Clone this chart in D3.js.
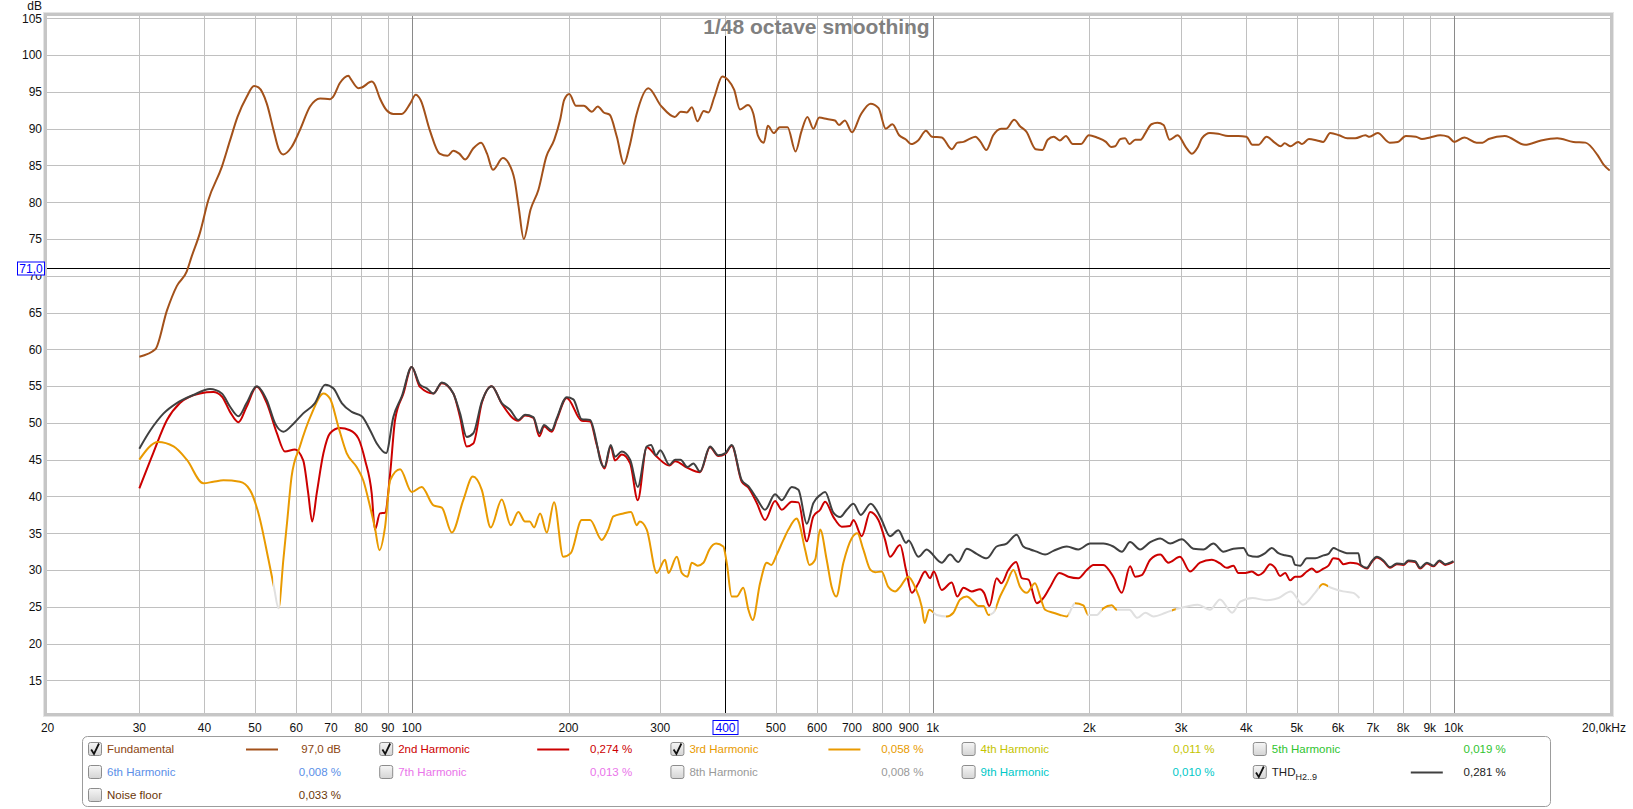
<!DOCTYPE html>
<html><head><meta charset="utf-8">
<script src="https://cdn.jsdelivr.net/npm/d3@7"></script>
<style>
html,body{margin:0;padding:0;background:#fff;}
svg{display:block;font-family:"Liberation Sans",Arial,sans-serif;}
</style></head><body>
<svg id="chart" width="1633" height="809"></svg>
<script>
// ---------------- data ----------------
const title = "1/48 octave smoothing";
const yTicks = [15,20,25,30,35,40,45,50,55,60,65,70,75,80,85,90,95,100,105];
const xTicks = [20,30,40,50,60,70,80,90,100,200,300,500,600,700,800,900,1000,2000,3000,4000,5000,6000,7000,8000,9000,10000,20000];
const xTickLabels = ["20","30","40","50","60","70","80","90","100","200","300","500","600","700","800","900","1k","2k","3k","4k","5k","6k","7k","8k","9k","10k","20,0kHz"];
const xGrid = [30,40,50,60,70,80,90,100,200,300,400,500,600,700,800,900,1000,2000,3000,4000,5000,6000,7000,8000,9000,10000];
const decadeGrid = [100,1000,10000];
const cursorFreq = 400, cursorFreqLabel = "400";
const cursorDb = 71.0, cursorDbLabel = "71,0";

const fundamental = [[30,59.0],[32.2,60.0],[33.9,65.3],[35.4,68.6],[37.0,70.6],[37.8,72.6],[39.2,75.8],[40.7,80.3],[43.2,84.8],[44.8,88.4],[46.3,91.6],[48.2,94.3],[49.8,95.8],[50.8,95.6],[52.7,93.4],[54.3,89.8],[55.5,87.3],[56.7,86.5],[58.8,87.5],[61.0,89.8],[63.8,93.0],[66.7,94.1],[69.7,94.0],[70.6,94.3],[72.8,96.2],[75.6,97.2],[76.3,96.8],[79.0,95.5],[80.2,95.6],[83.8,96.4],[84.6,96.2],[86.9,94.1],[89.5,92.5],[92.2,92.0],[95.7,92.0],[99.3,93.4],[101.8,94.6],[104,93.9],[108.3,89.8],[113.1,86.6],[117.1,86.3],[120.2,87.0],[123.4,86.6],[126.7,85.8],[131.2,87.3],[135.9,88.1],[139.5,86.6],[143.2,84.4],[149.6,86.0],[153.5,85.3],[157.6,83.0],[160.4,79.4],[164.1,75.0],[169.1,79.0],[175.1,81.7],[181.3,86.2],[187.8,88.5],[192.7,91.2],[196.2,93.9],[200.7,94.7],[206.7,93.1],[214,93.1],[221.7,92.3],[227.6,93.0],[233.7,92.2],[239.8,91.9],[247.6,88.9],[255.5,85.2],[261.7,87.5],[270,91.9],[284.6,95.5],[301,93.1],[319.9,91.6],[328.4,92.3],[337.3,92.2],[345,92.9],[353.5,91.0],[363.6,92.4],[371.2,92.2],[381,94.3],[394.6,97.1],[405,96.6],[415.8,95.3],[426.8,92.6],[442.1,93.2],[452.4,92.1],[461.8,89.1],[474.2,88.1],[482.6,90.4],[495.5,89.4],[508.7,90.2],[526.6,90.2],[545.5,86.9],[559.8,89.6],[574.9,91.6],[590.2,90.0],[605.7,91.5],[627.2,91.3],[649.4,91.1],[661,90.5],[678.4,91.1],[700.2,89.5],[727.6,91.9],[760.2,93.4],[787.3,92.8],[812.6,90.0],[836.9,90.6],[862.4,89.1],[889.7,88.5],[908.7,87.9],[937.7,88.4],[970.9,89.7],[996.6,88.9],[1041,88.8],[1088,87.2],[1116,88.1],[1146,88.2],[1177,88.6],[1208,88.9],[1236,88.2],[1268,87.1],[1307,89.1],[1353,90.0],[1384,90.0],[1434,91.2],[1473,90.3],[1513,89.6],[1577,87.2],[1625,87.1],[1663,88.5],[1708,88.9],[1754,88.4],[1802,89.0],[1858,87.9],[1925,87.9],[1995,89.1],[2067,88.8],[2151,88.2],[2200,87.5],[2240,87.6],[2293,88.6],[2342,88.7],[2385,87.9],[2449,88.5],[2508,88.5],[2561,89.4],[2630,90.6],[2701,90.8],[2775,90.5],[2850,88.5],[2954,89.1],[3061,87.5],[3146,86.6],[3230,87.5],[3289,88.7],[3406,89.4],[3532,89.3],[3692,89.0],[3862,89.0],[4002,88.9],[4110,87.8],[4220,87.8],[4375,88.9],[4534,88.1],[4656,87.6],[4738,88.0],[4868,87.6],[5030,88.2],[5118,87.9],[5276,88.6],[5468,88.4],[5616,88.2],[5798,89.4],[6031,89.1],[6250,88.7],[6474,88.7],[6772,89.1],[6896,88.9],[7150,89.4],[7542,88.1],[7816,88.2],[8098,89.0],[8468,88.9],[8696,88.6],[9014,88.8],[9426,89.1],[9764,88.9],[10032,88.2],[10492,88.8],[11070,88.1],[11364,88.1],[11678,88.6],[12539,89.0],[13711,87.8],[14722,88.4],[15809,88.7],[16978,88.2],[17908,88.1],[18897,86.4],[19406,85.1],[19940,84.3]];

const harmonic2 = [[30,41.1],[31.9,45.9],[33.9,50.4],[35.9,52.7],[39.2,54.0],[41.6,54.2],[43.2,53.6],[44.8,51.5],[46.5,50.1],[48.2,52.2],[50.4,54.9],[52.7,52.7],[55.1,48.6],[57.1,46.1],[59.7,46.4],[61.9,44.9],[63.3,40.4],[64.4,36.6],[65.7,40.4],[67.7,45.9],[69.7,48.6],[72.8,49.3],[76.1,49.0],[79.0,47.9],[81.4,44.9],[83.8,40.4],[85.0,35.5],[86.9,37.7],[88.9,37.8],[90.9,43.1],[92.9,50.4],[96.4,54.0],[100,57.6],[103.7,54.9],[110.1,54.0],[114.2,55.4],[120.2,54.0],[123.8,50.8],[127.5,46.8],[131.3,47.2],[136.3,52.7],[142.4,55.0],[148.9,52.6],[160.2,50.3],[165,51.0],[171.2,50.7],[175.8,48.2],[179.5,49.5],[185.7,48.8],[189.8,50.4],[198.4,53.4],[212,50.3],[220,50.2],[226.6,47.0],[234.4,43.8],[241,46.8],[245.6,44.9],[253.1,45.7],[262.6,44.5],[271.6,39.5],[282.6,46.7],[294.4,45.5],[312.3,44.2],[320.3,44.8],[338.3,43.9],[357.6,43.3],[373.8,46.7],[387.8,45.5],[400,45.8],[411.4,46.9],[430.1,42.0],[442.9,41.2],[459.7,39.1],[476.8,36.8],[498.3,39.4],[513.3,38.2],[536.6,39.3],[552.5,39.2],[573.4,33.9],[590.2,37.3],[608.2,38.2],[621.7,39.3],[645,37.2],[669,35.9],[694,36.0],[704.6,36.8],[731,34.6],[758.6,37.9],[786.8,36.8],[810.4,34.1],[828,31.8],[866,33.4],[889,30.0],[912,26.9],[939,28.2],[967,29.8],[988.6,28.9],[1005,29.8],[1041,27.3],[1088,28.3],[1115,26.4],[1146,27.6],[1189,27.1],[1233,27.4],[1255,26.9],[1285,25.1],[1327,28.9],[1355,28.2],[1397,30.0],[1446,31.1],[1483,28.9],[1527,28.7],[1584,25.5],[1627,26.1],[1681,27.7],[1751,29.6],[1822,29.1],[1904,28.9],[1976,30.0],[2035,30.7],[2126,30.7],[2222,29.1],[2307,26.9],[2393,30.5],[2448,29.1],[2520,29.3],[2616,31.4],[2735,32.1],[2834,31.0],[2984,31.8],[3120,29.8],[3260,31.0],[3434,31.4],[3562,30.9],[3670,30.3],[3779,30.6],[3862,29.6],[3984,29.6],[4099,29.8],[4220,29.3],[4315,29.7],[4444,30.8],[4544,30.3],[4645,29.2],[4750,29.6],[4855,28.6],[4964,29.1],[5075,29.1],[5228,29.8],[5346,30.2],[5465,29.7],[5626,30.2],[5752,30.6],[5880,31.6],[6012,31.5],[6145,30.8],[6328,31.0],[6520,30.9],[6637,30.6],[6814,30.2],[6966,31.1],[7122,31.7],[7333,31.2],[7554,30.3],[7780,30.8],[8012,30.7],[8190,31.2],[8436,31.1],[8625,30.2],[8884,30.9],[9148,30.5],[9393,31.2],[9634,30.7],[9994,31.1]];

const harmonic3 = [[30,45.0],[32.6,47.4],[34.9,46.8],[37.0,45.0],[39.8,41.8],[41.6,42.0],[43.5,42.2],[46.8,42.0],[48.9,40.9],[50.8,37.7],[53.1,31.4],[54.4,27.7],[55.5,24.8],[56.7,31.4],[57.7,36.8],[58.8,42.7],[61.0,46.8],[64.3,51.3],[67.7,54.0],[69.7,53.3],[72.3,49.5],[75.0,45.9],[78.4,44.0],[80.7,42.2],[83.2,38.6],[85.0,35.7],[86.7,32.7],[88.9,35.9],[90.9,42.2],[95.0,43.7],[100,40.6],[104.5,41.3],[110.1,38.8],[114.2,38.5],[119.4,35.1],[125.6,39.5],[131.0,42.7],[136.3,40.9],[141.8,35.8],[148.9,39.6],[154.9,36.1],[160.2,37.9],[165,36.6],[168.5,36.6],[171.7,35.8],[176.4,37.7],[181.7,35.1],[187.6,39.2],[195.4,31.8],[202,32.3],[212,36.8],[220,36.8],[231.6,34.1],[238.4,35.5],[243.8,37.3],[254.8,37.7],[263.6,37.9],[270.4,36.1],[274,36.6],[282.6,35.5],[295.4,29.6],[306.4,31.4],[311,29.6],[322.8,31.8],[330,29.6],[338.3,29.1],[344.8,31.0],[354,30.6],[363.1,31.0],[372.8,32.8],[384,33.6],[396.4,33.2],[402.4,31.0],[411.4,26.4],[420.6,26.4],[433,27.6],[442.9,24.6],[451.4,23.2],[466.3,28.2],[480.3,31.0],[490,30.7],[502,32.1],[517,34.1],[528.6,35.5],[548.5,37.0],[554,36.4],[569,32.8],[580,30.7],[594.8,31.4],[608.2,35.5],[626,31.4],[640,27.7],[653,26.4],[674,31.0],[699,34.3],[717,35.0],[736,32.8],[760,30.0],[776,29.7],[798,29.8],[822,27.7],[847,27.1],[866,27.7],[898,29.1],[925,27.7],[953,25.0],[965,22.8],[985,24.6],[1018,23.9],[1065,23.7],[1096,24.2],[1129,26.0],[1163,26.4],[1194,25.8],[1224,25.1],[1252,25.1],[1280,23.9],[1308,24.2],[1347,26.4],[1387,28.2],[1429,30.0],[1472,27.7],[1516,26.9],[1572,28.2],[1608,26.4],[1644,24.6],[1705,24.2],[1756,23.9],[1809,23.7],[1876,25.5],[1946,25.2],[1990,23.9],[2066,23.9],[2126,24.8],[2208,25.2],[2256,24.6],[2385,24.6],[2472,23.5],[2561,24.2],[2654,23.7],[2800,24.2],[2902,24.6],[3061,25.0],[3230,25.3],[3406,24.6],[3562,26.0],[3758,24.2],[3896,25.7],[4110,26.2],[4375,25.9],[4614,26.2],[4868,27.1],[5138,25.3],[5420,26.9],[5614,28.1],[5818,27.6],[6138,27.1],[6418,26.9],[6594,26.2]];
// frequency ranges where the 3rd harmonic lies below the noise floor (drawn greyed out)
const harmonic3BelowNoise = [[54.2,55.8],[1003,1060],[1290,1320],[1824,1874],[1985,2110],[2260,2880],[2930,5520],[5740,7000]];

const thd = [[30,46.5],[31.5,49.0],[33.4,51.3],[35.4,52.7],[38.1,53.8],[41.0,54.6],[43.2,54.0],[44.8,52.2],[46.5,50.9],[48.2,52.7],[50.4,55.0],[52.7,53.1],[54.7,49.9],[56.7,48.8],[59.3,49.9],[61.9,51.3],[65.2,52.7],[68.2,55.2],[70.7,54.7],[73.4,52.7],[76.7,51.5],[80.2,50.9],[83.2,49.0],[85.7,47.2],[89.3,45.9],[92.2,50.8],[95.7,53.6],[100,57.6],[103.7,55.2],[106.9,54.7],[110.1,54.0],[114.2,55.5],[120.2,54.0],[123.8,51.3],[127.5,48.1],[131.3,48.6],[136.3,52.9],[142.4,55.0],[148.9,52.7],[154.4,51.8],[160.2,50.4],[165,51.1],[171.2,50.8],[175.8,48.6],[179.5,49.7],[185.7,49.0],[189.8,50.6],[198.4,53.5],[204.3,53.2],[212,50.5],[220,50.4],[226.6,47.2],[229.9,45.0],[234.4,44.0],[241,47.0],[245.6,45.4],[253.1,46.1],[262.6,45.0],[271.6,41.3],[282.6,46.8],[288,47.0],[294.4,45.6],[300,46.3],[312.3,44.3],[320.3,45.0],[328,45.0],[338.3,44.0],[347.3,44.5],[357.6,43.4],[373.8,46.8],[387.8,45.6],[400,45.9],[411.4,47.0],[430.1,42.2],[442.9,41.4],[459.7,39.7],[476.8,38.2],[498.3,40.3],[513.3,39.5],[536.6,41.3],[552.5,40.9],[573.4,36.3],[590.2,39.1],[608.2,40.2],[621.7,40.6],[644.8,37.8],[664.2,37.2],[684.1,38.2],[704.6,39.0],[727.9,37.5],[760.6,39.0],[781,38.1],[798.3,36.8],[828.2,34.6],[859.3,35.4],[889.3,33.7],[899,34.0],[939,31.8],[974.4,32.8],[988,32.5],[1041,31.0],[1080,32.1],[1120,31.1],[1163,32.9],[1215,32.2],[1270,31.6],[1327,33.2],[1387,33.6],[1450,34.8],[1493,33.2],[1540,32.8],[1584,32.5],[1644,32.1],[1705,32.6],[1809,33.2],[1904,32.8],[2006,33.6],[2126,33.6],[2222,33.2],[2307,32.5],[2393,33.8],[2502,32.8],[2616,33.8],[2735,34.3],[2857,33.6],[3008,34.2],[3167,32.9],[3310,32.8],[3458,33.6],[3615,32.5],[3779,32.9],[3950,33.0],[4038,32.0],[4191,31.8],[4348,32.3],[4477,33.0],[4610,32.3],[4750,32.0],[4892,31.8],[4964,30.7],[5075,30.6],[5228,31.6],[5424,31.6],[5626,32.0],[5752,32.2],[5880,33.0],[6012,32.7],[6238,32.3],[6566,32.3],[6637,30.7],[6814,30.3],[6966,31.2],[7122,31.8],[7333,31.3],[7554,30.4],[7780,30.9],[8012,30.8],[8190,31.3],[8436,31.2],[8625,30.3],[8884,31.0],[9148,30.6],[9393,31.3],[9634,30.8],[9994,31.2]];

const legendNames = ["Fundamental","2nd Harmonic","3rd Harmonic","4th Harmonic","5th Harmonic","6th Harmonic","7th Harmonic","8th Harmonic","9th Harmonic","THD","Noise floor"];
const legendValues = ["97,0 dB","0,274 %","0,058 %","0,011 %","0,019 %","0,008 %","0,013 %","0,008 %","0,010 %","0,281 %","0,033 %"];
const legendChecked = [true,true,true,false,false,false,false,false,false,true,false];
const legendTextColors = ["#8b4510","#cc0000","#e89b00","#c4c400","#2fc42f","#5b8fe8","#ea74ea","#999999","#00c8c8","#222222","#6b3608"];
const curveColors = {fundamental:"#a3511a", h2:"#cc0000", h3:"#e99a00", thd:"#404040", belowNoise:"#e0e0e0"};

// ---------------- layout ----------------
const svg = d3.select("#chart");
const L = 47, R = 1610, T = 16, B = 713;
const x = d3.scaleLog().domain([20,20000]).range([47.6,1610.4]);
const y = d3.scaleLinear().domain([15,105]).range([680.4,18.3]);

const defs = svg.append("defs");
defs.append("clipPath").attr("id","plotClip").append("rect")
  .attr("x",L).attr("y",T).attr("width",R-L).attr("height",B-T);

// plot background and frame
svg.append("rect").attr("x",L).attr("y",T).attr("width",R-L).attr("height",B-T).attr("fill","#fff");
svg.append("rect").attr("x",43.5).attr("y",12.5).attr("width",1570).attr("height",704)
  .attr("fill","none").attr("stroke","#e4e4e4").attr("stroke-width",1);
svg.append("rect").attr("x",45.5).attr("y",14.5).attr("width",1566).attr("height",700)
  .attr("fill","none").attr("stroke","#c6c6c6").attr("stroke-width",3);

// grid
const grid = svg.append("g");
grid.selectAll(".hg").data(yTicks).join("line")
  .attr("x1",L).attr("x2",R)
  .attr("y1",d=>Math.round(y(d))+0.5).attr("y2",d=>Math.round(y(d))+0.5)
  .attr("stroke","#c0c0c0").attr("stroke-width",1);
grid.selectAll(".vg").data(xGrid).join("line")
  .attr("x1",d=>Math.round(x(d))+0.5).attr("x2",d=>Math.round(x(d))+0.5)
  .attr("y1",T).attr("y2",B)
  .attr("stroke",d=>decadeGrid.includes(d)?"#8a8a8a":"#c0c0c0").attr("stroke-width",1);

// y axis labels
const yl = svg.append("g").attr("font-size",12).attr("fill","#111").attr("text-anchor","end");
yl.selectAll("text").data(yTicks).join("text")
  .attr("x",42).attr("y",d=>y(d)+4.3).text(d=>d);
yl.append("text").attr("x",42).attr("y",10).text("dB");

// x axis labels
const xl = svg.append("g").attr("font-size",12).attr("fill","#111").attr("text-anchor","middle");
xl.selectAll("text").data(xTicks).join("text")
  .attr("x",(d,i)=> i===xTicks.length-1 ? 1626 : x(d))
  .attr("text-anchor",(d,i)=> i===xTicks.length-1 ? "end":"middle")
  .attr("y",732).text((d,i)=>xTickLabels[i]);

// title
svg.append("text").attr("x",816.5).attr("y",33.5).attr("text-anchor","middle")
  .attr("font-size",21).attr("font-weight","bold").attr("fill","#808080").text(title);

// cursors
const cx = Math.round(x(cursorFreq))+0.5, cy = Math.round(y(cursorDb))+0.5;
svg.append("line").attr("x1",L).attr("x2",R).attr("y1",cy).attr("y2",cy).attr("stroke","#000");
svg.append("line").attr("x1",cx).attr("x2",cx).attr("y1",36).attr("y2",B).attr("stroke","#000");

// curves
const line = d3.line().x(d=>x(d[0])).y(d=>y(d[1])).curve(d3.curveMonotoneX);
const curves = svg.append("g").attr("clip-path","url(#plotClip)").attr("fill","none")
  .attr("stroke-width",2).attr("stroke-linejoin","round").attr("stroke-linecap","butt");
curves.append("path").attr("d",line(fundamental)).attr("stroke",curveColors.fundamental);
curves.append("path").attr("d",line(harmonic2)).attr("stroke",curveColors.h2);

// 3rd harmonic: coloured where above noise, grey where below
const bnPx = harmonic3BelowNoise.map(r=>[x(r[0]),x(r[1])]);
const abovePx = [];
let start = L;
bnPx.forEach(r=>{ abovePx.push([start,r[0]]); start = r[1]; });
abovePx.push([start,R]);
const clipAbove = defs.append("clipPath").attr("id","h3above");
abovePx.forEach(r=>clipAbove.append("rect").attr("x",r[0]).attr("y",T).attr("width",r[1]-r[0]).attr("height",B-T));
const clipBelow = defs.append("clipPath").attr("id","h3below");
bnPx.forEach(r=>clipBelow.append("rect").attr("x",r[0]).attr("y",T).attr("width",r[1]-r[0]).attr("height",B-T));
curves.append("g").attr("clip-path","url(#h3above)").append("path")
  .attr("d",line(harmonic3)).attr("stroke",curveColors.h3);
curves.append("g").attr("clip-path","url(#h3below)").append("path")
  .attr("d",line(harmonic3)).attr("stroke",curveColors.belowNoise);

curves.append("path").attr("d",line(thd)).attr("stroke",curveColors.thd);

// cursor value boxes
const dbBox = svg.append("g");
dbBox.append("rect").attr("x",17.5).attr("y",cy-6.5).attr("width",27).attr("height",13)
  .attr("fill","#fff").attr("stroke","#0000ff");
dbBox.append("text").attr("x",31).attr("y",cy+4.5).attr("text-anchor","middle")
  .attr("font-size",12).attr("fill","#0000ff").text(cursorDbLabel);
const fBox = svg.append("g");
fBox.append("rect").attr("x",cx-12.5).attr("y",720.5).attr("width",25).attr("height",14)
  .attr("fill","#fff").attr("stroke","#0000ff");
fBox.append("text").attr("x",cx).attr("y",732).attr("text-anchor","middle")
  .attr("font-size",12).attr("fill","#0000ff").text(cursorFreqLabel);

// legend
const grad = defs.append("linearGradient").attr("id","cb").attr("x1",0).attr("y1",0).attr("x2",0).attr("y2",1);
grad.append("stop").attr("offset","0").attr("stop-color","#f6f6f6");
grad.append("stop").attr("offset","1").attr("stop-color","#d4d4d4");
svg.append("rect").attr("x",82.5).attr("y",736.5).attr("width",1468).attr("height",70).attr("rx",5)
  .attr("fill","#fff").attr("stroke","#9c9c9c");
const lineColorsByIdx = {0:curveColors.fundamental,1:curveColors.h2,2:curveColors.h3,9:curveColors.thd};
const lg = svg.append("g").attr("font-size",11.5);
legendNames.forEach((name,i)=>{
  const col = i%5, row = Math.floor(i/5);
  const cx0 = 88 + col*291.2, ry = 749 + row*23;
  const g = lg.append("g");
  g.append("rect").attr("x",cx0+0.5).attr("y",ry-6.5).attr("width",13).attr("height",13).attr("rx",2)
    .attr("fill","url(#cb)").attr("stroke","#8c8c8c");
  if (legendChecked[i]) {
    g.append("path").attr("d",`M${cx0+3.2},${ry+0.5} L${cx0+6},${ry+5} L${cx0+11},${ry-5.5}`)
      .attr("fill","none").attr("stroke","#111").attr("stroke-width",1.8);
  }
  const t = g.append("text").attr("x",cx0+19).attr("y",ry+4).attr("fill",legendTextColors[i]);
  if (name==="THD") {
    t.append("tspan").text("THD");
    t.append("tspan").attr("font-size",9).attr("dy",4).text("H2..9");
  } else t.text(name);
  if (lineColorsByIdx[i]) {
    g.append("line").attr("x1",cx0+158).attr("x2",cx0+190).attr("y1",ry+0.5).attr("y2",ry+0.5)
      .attr("stroke",lineColorsByIdx[i]).attr("stroke-width",2);
  }
  g.append("text").attr("x",cx0+253).attr("y",ry+4).attr("text-anchor","end")
    .attr("fill",legendTextColors[i]).text(legendValues[i]);
});
</script>
</body></html>
